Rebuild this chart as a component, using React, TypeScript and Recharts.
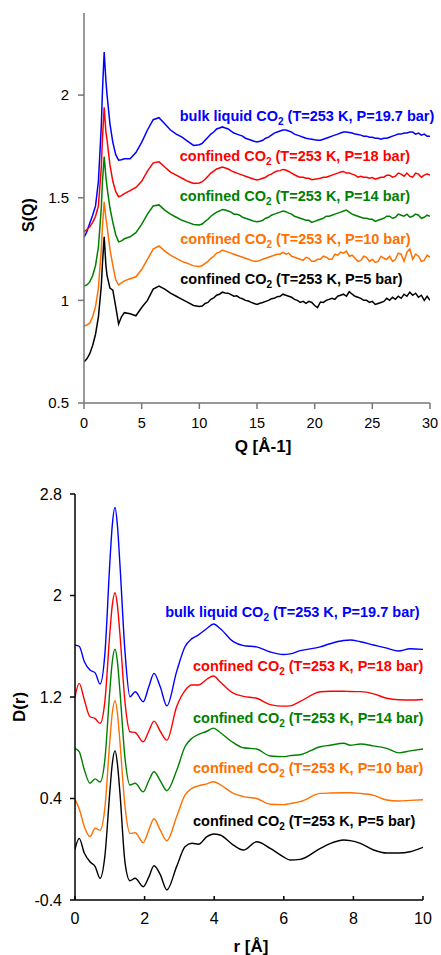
import React from 'react';
import { LineChart, Line, XAxis, YAxis, ReferenceDot, Label } from 'recharts';

// ---------- Top panel: S(Q) ----------
const qValues = [
  0, 0.25, 0.5, 0.75, 1.0, 1.25, 1.5, 1.6, 1.75, 1.9, 2.0, 2.25, 2.5, 2.75, 3.0, 3.25, 3.5, 4, 4.5, 5, 5.5, 6, 6.5, 7, 7.5, 8, 8.5, 9, 9.5, 10,
  10.25, 10.5, 10.75, 11, 11.25, 11.5, 11.75, 12, 12.25, 12.5, 12.75, 13, 13.25, 13.5, 13.75, 14, 14.25, 14.5, 14.75, 15,
  15.25, 15.5, 15.75, 16, 16.25, 16.5, 16.75, 17, 17.25, 17.5, 17.75, 18, 18.25, 18.5, 18.75, 19, 19.25, 19.5, 19.75, 20,
  20.25, 20.5, 20.75, 21, 21.25, 21.5, 21.75, 22, 22.25, 22.5, 22.75, 23, 23.25, 23.5, 23.75, 24, 24.25, 24.5, 24.75, 25,
  25.25, 25.5, 25.75, 26, 26.25, 26.5, 26.75, 27, 27.25, 27.5, 27.75, 28, 28.25, 28.5, 28.75, 29, 29.25, 29.5, 29.75, 30,
];

const sqBulk = [
  1.307, 1.335, 1.376, 1.415, 1.46, 1.58, 1.85, 2.02, 2.21, 2.07, 2.0, 1.86, 1.77, 1.71, 1.683, 1.685, 1.69, 1.69, 1.72, 1.77, 1.83, 1.88, 1.89, 1.86, 1.83, 1.81, 1.795, 1.775, 1.755, 1.758,
  1.765, 1.78, 1.795, 1.81, 1.82, 1.835, 1.84, 1.845, 1.84, 1.835, 1.825, 1.815, 1.81, 1.805, 1.8, 1.79, 1.785, 1.78, 1.775, 1.772,
  1.775, 1.78, 1.79, 1.795, 1.805, 1.815, 1.82, 1.825, 1.83, 1.83, 1.825, 1.82, 1.81, 1.805, 1.8, 1.795, 1.79, 1.787, 1.785, 1.782,
  1.78, 1.78, 1.785, 1.79, 1.795, 1.8, 1.805, 1.81, 1.815, 1.82, 1.82, 1.818, 1.815, 1.81, 1.808, 1.805, 1.8, 1.8, 1.795, 1.795,
  1.79, 1.79, 1.785, 1.79, 1.79, 1.795, 1.8, 1.805, 1.81, 1.81, 1.815, 1.815, 1.82, 1.82, 1.81, 1.815, 1.805, 1.81, 1.8, 1.8,
];
const sq18 = [
  1.334, 1.345, 1.358, 1.38, 1.41, 1.46, 1.65, 1.79, 1.94, 1.82, 1.78, 1.66, 1.58, 1.53, 1.505, 1.51, 1.52, 1.535, 1.55, 1.58, 1.63, 1.67, 1.675, 1.65, 1.625, 1.61, 1.595, 1.58, 1.57, 1.572,
  1.578, 1.59, 1.605, 1.62, 1.63, 1.64, 1.645, 1.65, 1.645, 1.64, 1.632, 1.625, 1.62, 1.615, 1.61, 1.605, 1.6, 1.595, 1.59, 1.586,
  1.59, 1.595, 1.6, 1.61, 1.615, 1.625, 1.63, 1.632, 1.638, 1.635, 1.628, 1.62, 1.612, 1.605, 1.6, 1.6, 1.595, 1.595, 1.588, 1.59,
  1.592, 1.595, 1.6, 1.6, 1.605, 1.61, 1.615, 1.62, 1.625, 1.628, 1.62, 1.62, 1.615, 1.61, 1.6, 1.605, 1.6, 1.6, 1.595, 1.598,
  1.59, 1.595, 1.6, 1.6, 1.61, 1.61, 1.6, 1.605, 1.62, 1.615, 1.605, 1.62, 1.605, 1.6, 1.62, 1.615, 1.6, 1.61, 1.615, 1.61,
];
const sq14 = [
  1.07, 1.075, 1.09, 1.12, 1.17, 1.26, 1.45, 1.58, 1.7, 1.6, 1.55, 1.45, 1.38, 1.32, 1.285, 1.29, 1.3, 1.31, 1.33, 1.37, 1.42, 1.46, 1.465, 1.44, 1.42, 1.405, 1.39, 1.38, 1.37, 1.367,
  1.372, 1.385, 1.395, 1.41, 1.42, 1.43, 1.435, 1.443, 1.44, 1.435, 1.43, 1.42, 1.42, 1.415, 1.405, 1.4, 1.395, 1.39, 1.385, 1.383,
  1.385, 1.39, 1.4, 1.405, 1.415, 1.42, 1.425, 1.43, 1.435, 1.432, 1.425, 1.42, 1.41, 1.405, 1.4, 1.395, 1.39, 1.39, 1.38, 1.385,
  1.39, 1.395, 1.4, 1.41, 1.41, 1.415, 1.42, 1.425, 1.43, 1.435, 1.44, 1.43, 1.42, 1.415, 1.41, 1.405, 1.4, 1.4, 1.395, 1.395,
  1.385, 1.39, 1.395, 1.4, 1.41, 1.41, 1.4, 1.405, 1.42, 1.415, 1.41, 1.42, 1.405, 1.41, 1.42, 1.415, 1.4, 1.405, 1.415, 1.41,
];
const sq10 = [
  0.875, 0.88, 0.89, 0.92, 0.97, 1.06, 1.25, 1.36, 1.48, 1.4, 1.36, 1.25, 1.17, 1.1, 1.075, 1.085, 1.095, 1.105, 1.115, 1.15, 1.2, 1.25, 1.265, 1.24, 1.22, 1.205, 1.19, 1.18, 1.168, 1.165,
  1.17, 1.18, 1.19, 1.205, 1.215, 1.23, 1.235, 1.245, 1.24, 1.235, 1.23, 1.225, 1.22, 1.215, 1.21, 1.205, 1.2, 1.195, 1.19, 1.19,
  1.195, 1.2, 1.205, 1.21, 1.215, 1.22, 1.225, 1.225, 1.235, 1.225, 1.23, 1.215, 1.21, 1.205, 1.2, 1.195, 1.21, 1.205, 1.19, 1.19,
  1.2, 1.2, 1.215, 1.21, 1.2, 1.2, 1.225, 1.22, 1.235, 1.23, 1.24, 1.215, 1.22, 1.205, 1.19, 1.195, 1.215, 1.21, 1.19, 1.2,
  1.185, 1.19, 1.215, 1.205, 1.2, 1.215, 1.19, 1.2, 1.23, 1.225, 1.19, 1.235, 1.25, 1.2, 1.225, 1.215, 1.19, 1.195, 1.22, 1.21,
];
const sq5 = [
  0.7, 0.715, 0.74, 0.78, 0.835, 0.92, 1.07, 1.18, 1.31, 1.17, 1.12, 1.06, 1.05, 0.97, 0.885, 0.92, 0.94, 0.935, 0.925, 0.965, 1.0, 1.055, 1.07, 1.055, 1.035, 1.02, 1.005, 0.99, 0.975, 0.97,
  0.972, 0.985, 0.99, 1.005, 1.012, 1.025, 1.03, 1.04, 1.036, 1.035, 1.028, 1.02, 1.022, 1.012, 1.008, 1.0, 0.997, 0.99, 0.985, 0.98,
  0.986, 0.99, 0.995, 1.0, 1.008, 1.01, 1.018, 1.02, 1.03, 1.025, 1.02, 1.015, 1.005, 1.0, 0.99, 0.995, 0.985, 0.995, 0.99, 0.975,
  0.965, 0.992, 0.99, 1.0, 1.005, 1.01, 1.005, 1.02, 1.025, 1.03, 1.02, 1.042, 1.03, 1.02, 1.015, 1.01, 1.0, 1.0, 0.99, 0.995,
  0.98, 0.985, 0.99, 0.995, 1.01, 1.0, 1.015, 1.005, 1.02, 1.01, 1.03, 1.02, 1.04, 1.025, 1.035, 1.015, 1.025, 1.0, 1.02, 1.0,
];

const qTicks = [0, 5, 10, 15, 20, 25, 30];
const sqTicks = [0.5, 1, 1.5, 2];

// ---------- Bottom panel: D(r) ----------
const rValues = [0, 0.12, 0.27, 0.43, 0.58, 0.72, 0.86, 1.0, 1.07, 1.15, 1.22, 1.29, 1.44, 1.58, 1.73, 1.96, 2.12, 2.27, 2.45, 2.64, 2.92, 3.16, 3.36, 3.55, 3.79, 3.98, 4.17, 4.55, 4.84, 5.22, 5.61, 5.99, 6.18, 6.47, 7.05, 7.33, 7.72, 7.91, 8.2, 8.58, 8.96, 9.3, 9.63, 10];

const drBulk = [1.609, 1.6, 1.478, 1.412, 1.39, 1.302, 1.544, 2.253, 2.55, 2.694, 2.55, 2.25, 1.544, 1.202, 1.241, 1.163, 1.28, 1.386, 1.28, 1.13, 1.4, 1.596, 1.66, 1.69, 1.74, 1.775, 1.74, 1.636, 1.605, 1.595, 1.555, 1.535, 1.54, 1.565, 1.595, 1.62, 1.645, 1.649, 1.635, 1.61, 1.585, 1.562, 1.58, 1.575];
const dr18 = [1.202, 1.307, 1.176, 1.044, 1.03, 0.992, 1.17, 1.7, 1.92, 2.022, 1.92, 1.7, 1.15, 0.926, 0.92, 0.847, 0.93, 1.01, 0.93, 0.86, 1.123, 1.25, 1.294, 1.294, 1.34, 1.365, 1.32, 1.23, 1.205, 1.19, 1.14, 1.128, 1.13, 1.165, 1.241, 1.245, 1.245, 1.243, 1.242, 1.225, 1.19, 1.178, 1.176, 1.18];
const dr14 = [0.795, 0.77, 0.624, 0.52, 0.555, 0.53, 0.71, 1.25, 1.475, 1.576, 1.475, 1.25, 0.71, 0.506, 0.52, 0.453, 0.54, 0.611, 0.54, 0.461, 0.62, 0.808, 0.875, 0.905, 0.93, 0.955, 0.92, 0.84, 0.8, 0.79, 0.735, 0.73, 0.738, 0.745, 0.808, 0.82, 0.835, 0.82, 0.83, 0.815, 0.795, 0.76, 0.775, 0.79];
const dr10 = [0.393, 0.32, 0.178, 0.1, 0.165, 0.15, 0.33, 0.85, 1.07, 1.17, 1.07, 0.85, 0.33, 0.125, 0.13, 0.052, 0.15, 0.24, 0.15, 0.067, 0.256, 0.427, 0.48, 0.5, 0.515, 0.532, 0.51, 0.44, 0.415, 0.4, 0.355, 0.352, 0.36, 0.375, 0.44, 0.443, 0.445, 0.445, 0.44, 0.425, 0.388, 0.38, 0.385, 0.39];
const dr5 = [0.0, 0.086, -0.032, -0.098, -0.137, -0.229, -0.05, 0.45, 0.67, 0.777, 0.67, 0.45, -0.111, -0.248, -0.229, -0.295, -0.22, -0.13, -0.2, -0.321, -0.137, 0.02, 0.047, 0.04, 0.099, 0.12, 0.112, 0.033, -0.006, 0.059, 0.007, -0.06, -0.085, -0.08, 0.007, 0.045, 0.073, 0.068, 0.046, -0.006, -0.03, -0.03, -0.02, 0.015];

const rTicks = [0, 2, 4, 6, 8, 10];
const drTicks = [-0.4, 0.4, 1.2, 2, 2.8];

// ---------- Series / labels ----------
const seriesKeys = ['bulk', 'p18', 'p14', 'p10', 'p5'];
const seriesColors = ['#0000FF', '#FF0000', '#008000', '#FF7000', '#000000'];
const labelPrefix = ['bulk liquid CO', 'confined CO', 'confined CO', 'confined CO', 'confined CO'];
const labelSuffix = [' (T=253 K, P=19.7 bar)', ' (T=253 K, P=18 bar)', ' (T=253 K, P=14 bar)', ' (T=253 K, P=10 bar)', ' (T=253 K, P=5 bar)'];

const sqLabelX = [8.3, 8.3, 8.3, 8.35, 8.35];
const sqLabelY = [1.876, 1.68, 1.482, 1.276, 1.08];
const drLabelX = [2.59, 3.39, 3.39, 3.39, 3.39];
const drLabelY = [1.832, 1.407, 0.993, 0.598, 0.18];

const sqSeries = [sqBulk, sq18, sq14, sq10, sq5];
const drSeries = [drBulk, dr18, dr14, dr10, dr5];

const sqData = qValues.map((q, i) => {
  const row: any = { x: q };
  seriesKeys.forEach((k, j) => { row[k] = sqSeries[j][i]; });
  return row;
});
const drData = rValues.map((r, i) => {
  const row: any = { x: r };
  seriesKeys.forEach((k, j) => { row[k] = drSeries[j][i]; });
  return row;
});

const FONT = '"Liberation Sans", Arial, Helvetica, sans-serif';

const makeAnnot = (j: number) => (props: any) => (
  <text
    x={props.cx}
    y={props.cy}
    fill={seriesColors[j]}
    fontFamily={FONT}
    fontWeight="bold"
    fontSize={14.5}
    style={{ whiteSpace: 'pre' }}
  >
    <tspan>{labelPrefix[j]}</tspan>
    <tspan fontSize={10} dy={4}>2</tspan>
    <tspan dy={-4}>{labelSuffix[j]}</tspan>
  </text>
);

const rotTitle = (text: string, x: number, y: number, size: number) => () => (
  <text
    x={x}
    y={y}
    transform={`rotate(-90 ${x} ${y})`}
    textAnchor="middle"
    dominantBaseline="central"
    fontFamily={FONT}
    fontWeight="bold"
    fontSize={size}
    fill="#000"
  >
    {text}
  </text>
);

const xTitle = (text: string, x: number, y: number, size: number) => () => (
  <text x={x} y={y} textAnchor="middle" fontFamily={FONT} fontWeight="bold" fontSize={size} fill="#000">
    {text}
  </text>
);

export default function App() {
  return (
    <div style={{ position: 'absolute', left: 0, top: 0, width: 441, height: 955, background: '#fff' }}>
      <LineChart
        width={441}
        height={465}
        data={sqData}
        margin={{ top: 13, right: 11, left: 0, bottom: 7 }}
      >
        <XAxis
          dataKey="x"
          type="number"
          domain={[0, 30]}
          ticks={qTicks}
          height={55}
          tickSize={6}
          tickMargin={9}
          stroke="#777"
          strokeWidth={1.5}
          tick={{ fill: '#000', fontSize: 14.5, fontFamily: FONT }}
          allowDataOverflow
        >
          <Label content={xTitle('Q [Å-1]', 263, 452, 17)} />
        </XAxis>
        <YAxis
          type="number"
          domain={[0.5, 2.4]}
          ticks={sqTicks}
          width={84}
          tickSize={6}
          tickMargin={9}
          stroke="#777"
          strokeWidth={1.5}
          tick={{ fill: '#000', fontSize: 15, fontFamily: FONT }}
          allowDataOverflow
        >
          <Label content={rotTitle('S(Q)', 28, 215, 16)} />
        </YAxis>
        {seriesKeys.map((k, j) => (
          <Line
            key={k}
            dataKey={k}
            type="linear"
            stroke={seriesColors[j]}
            strokeWidth={1.5}
            dot={false}
            isAnimationActive={false}
          />
        ))}
        {seriesKeys.map((k, j) => (
          <ReferenceDot
            key={'a' + k}
            x={sqLabelX[j]}
            y={sqLabelY[j]}
            r={0}
            ifOverflow="visible"
            shape={makeAnnot(j)}
          />
        ))}
      </LineChart>

      <LineChart
        width={441}
        height={490}
        data={drData}
        margin={{ top: 29, right: 18, left: 0, bottom: 5 }}
      >
        <XAxis
          dataKey="x"
          type="number"
          domain={[0, 10]}
          ticks={rTicks}
          height={50}
          tickSize={-4}
          tickMargin={17}
          stroke="#000"
          strokeWidth={1.5}
          tick={{ fill: '#000', fontSize: 16, fontFamily: FONT }}
          allowDataOverflow
        >
          <Label content={xTitle('r [Å]', 251, 487, 17)} />
        </XAxis>
        <YAxis
          type="number"
          domain={[-0.4, 2.8]}
          ticks={drTicks}
          width={75}
          tickSize={5}
          tickMargin={8}
          stroke="#000"
          strokeWidth={1.5}
          tick={{ fill: '#000', fontSize: 16, fontFamily: FONT }}
          allowDataOverflow
        >
          <Label content={rotTitle('D(r)', 19, 242, 17)} />
        </YAxis>
        {seriesKeys.map((k, j) => (
          <Line
            key={k}
            dataKey={k}
            type="monotone"
            stroke={seriesColors[j]}
            strokeWidth={1.4}
            dot={false}
            isAnimationActive={false}
          />
        ))}
        {seriesKeys.map((k, j) => (
          <ReferenceDot
            key={'a' + k}
            x={drLabelX[j]}
            y={drLabelY[j]}
            r={0}
            ifOverflow="visible"
            shape={makeAnnot(j)}
          />
        ))}
      </LineChart>
    </div>
  );
}
